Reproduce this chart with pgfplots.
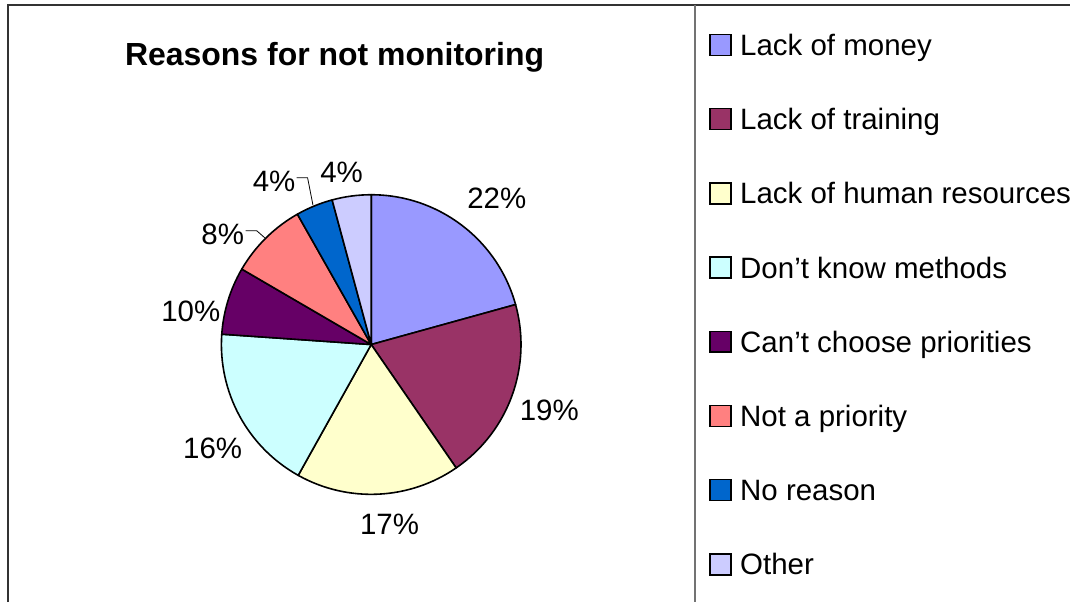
\documentclass[border=0pt]{standalone}
\usepackage{pgfplots}
\pgfplotsset{compat=1.18}
\usepackage{pgfplotstable}
\usepackage{fontspec}
\setmainfont{Liberation Sans}
\definecolor{cA}{HTML}{9999FF}
\definecolor{cB}{HTML}{993366}
\definecolor{cC}{HTML}{FFFFCC}
\definecolor{cD}{HTML}{CCFFFF}
\definecolor{cE}{HTML}{660066}
\definecolor{cF}{HTML}{FF8080}
\definecolor{cG}{HTML}{0066CC}
\definecolor{cH}{HTML}{CCCCFF}
% share = drawn share of the circle, pct = printed label, lx/ly = label position
\pgfplotstableread{
share pct lx ly
20.7 22 497.5 198
19.7 19 550 411
17.7 17 390 525
18.0 16 213 449
7.3 10 191 311
8.4 8 223 234
4.0 4 274.5 181
4.2 4 342 172
}\piedata
\begin{document}
\begin{tikzpicture}
\begin{axis}[x=1pt,y=1pt,xmin=0,xmax=1071,ymin=0,ymax=603,y dir=reverse,
  hide axis,clip=false]
\path (axis cs:0,0) -- (axis cs:1071,603);
\draw[line width=1.8pt, black!80] (axis cs:8,603) -- (axis cs:8,5) -- (axis cs:1071,5);
\draw[line width=1.4pt, black!55] (axis cs:696,5) -- (axis cs:696,603);
\node[anchor=base,inner sep=0pt,font=\fontsize{32}{38}\selectfont\bfseries] at (axis cs:335,65.5) {Reasons for not monitoring};
\draw[line width=0.8pt] (axis cs:297,178) -- (axis cs:308,178) -- (axis cs:313.3,205);
\draw[line width=0.8pt] (axis cs:246,231) -- (axis cs:257,231) -- (axis cs:265,238);
\pgfplotsextra{
  \xdef\cumangle{90}
  \foreach \i/\col in {0/cA,1/cB,2/cC,3/cD,4/cE,5/cF,6/cG,7/cH}{
    \pgfplotstablegetelem{\i}{share}\of\piedata
    \pgfmathsetmacro{\endang}{\cumangle-3.6*\pgfplotsretval}
    \filldraw[fill=\col,draw=black,line width=1.6pt,line join=round]
      (axis cs:371.7,345) -- ++(\cumangle:150pt)
      arc[start angle=\cumangle,end angle=\endang,radius=150pt] -- cycle;
    \xdef\cumangle{\endang}
  }
  \foreach \i in {0,...,7}{
    \pgfplotstablegetelem{\i}{pct}\of\piedata \let\pp\pgfplotsretval
    \pgfplotstablegetelem{\i}{lx}\of\piedata \let\lx\pgfplotsretval
    \pgfplotstablegetelem{\i}{ly}\of\piedata \let\ly\pgfplotsretval
    \pgfmathsetmacro{\lyb}{\ly+10.5}
    \node[anchor=base,inner sep=0pt,font=\fontsize{29.5}{35}\selectfont] at (axis cs:\lx,\lyb) {\pp\%};
  }
  \foreach \j/\col/\name in {0/cA/Lack of money,1/cB/Lack of training,2/cC/Lack of human resources,3/cD/Don’t know methods,4/cE/Can’t choose priorities,5/cF/Not a priority,6/cG/No reason,7/cH/Other}{
    \pgfmathsetmacro{\yy}{45+74.3*\j}
    \pgfmathsetmacro{\ya}{\yy-10.5}
    \pgfmathsetmacro{\yb}{\yy+10.5}
    \pgfmathsetmacro{\ybase}{\yy+10.5}
    \filldraw[fill=\col,draw=black,line width=1.5pt] (axis cs:711,\ya) rectangle (axis cs:732,\yb);
    \node[anchor=base west,inner sep=0pt,font=\fontsize{29.5}{35}\selectfont] at (axis cs:741,\ybase) {\name};
  }
}
\end{axis}
\end{tikzpicture}
\end{document}
